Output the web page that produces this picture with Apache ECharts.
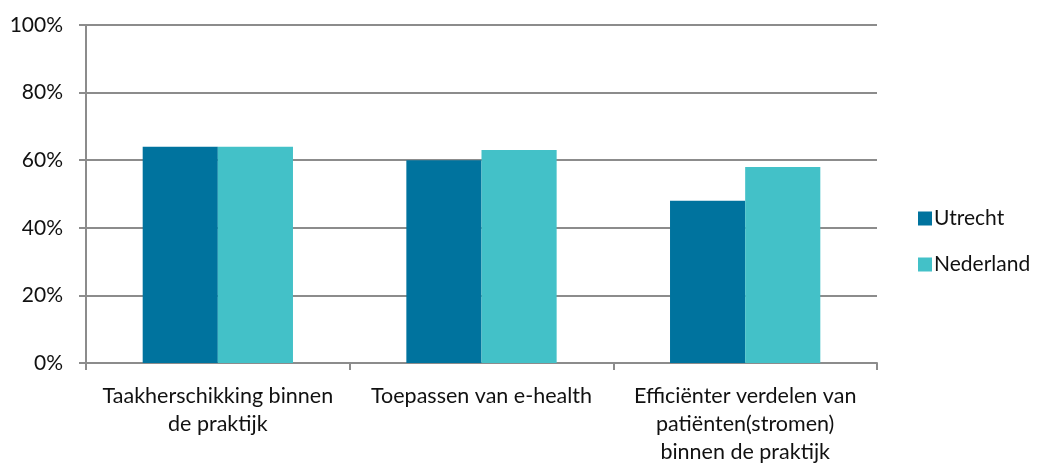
<!DOCTYPE html>
<html lang="nl">
<head>
<meta charset="UTF-8">
<title>Taakherschikking en e-health</title>
<script src="https://cdn.jsdelivr.net/npm/echarts@6/dist/echarts.min.js"></script>
<style>
  html, body { margin: 0; padding: 0; background: #fff; }
</style>
</head>
<body>
    <div id="chart" style="width: 1041px;height:466px;"></div>
    <script type="text/javascript">
        // categorieën en waarden (in %)
        var categories = ['Taakherschikking binnen\nde praktijk', 'Toepassen van e-health', 'Efficiënter verdelen van\npatiënten(stromen)\nbinnen de praktijk'];
        var utrecht = [64, 60, 48];
        var nederland = [64, 63, 58];
        var yTicks = [0, 20, 40, 60, 80, 100];

        var myChart = echarts.init(document.getElementById('chart'));
        var gray = '#8c8c8c';
        var font = 'Lato, Open Sans, sans-serif';

        var option = {
            animation: false,
            textStyle: { fontFamily: font },
            grid: { left: 86, right: 164, top: 25, bottom: 98, containLabel: false },
            legend: {
                orient: 'vertical',
                left: 913,
                top: 203,
                itemWidth: 14,
                itemHeight: 14,
                itemGap: 25,
                icon: 'rect',
                textStyle: { fontSize: 21, color: '#111', fontFamily: font, padding: [0, 0, 0, -3] },
                data: ['Utrecht', 'Nederland']
            },
            xAxis: {
                type: 'category',
                data: categories,
                axisLine: { lineStyle: { color: gray, width: 2 } },
                axisTick: { show: true, length: 7, interval: 0, lineStyle: { color: gray, width: 2 } },
                axisLabel: { interval: 0, fontSize: 21.5, color: '#111', lineHeight: 28, margin: 19, fontFamily: font }
            },
            yAxis: {
                type: 'value',
                min: yTicks[0],
                max: yTicks[yTicks.length - 1],
                interval: 20,
                axisLine: { show: true, lineStyle: { color: gray, width: 2 } },
                axisTick: { show: true, length: 7, lineStyle: { color: gray, width: 2 } },
                splitLine: { lineStyle: { color: gray, width: 2 } },
                axisLabel: { formatter: '{value}%', fontSize: 21, color: '#111', margin: 23, fontFamily: font }
            },
            series: [{
                name: 'Utrecht',
                type: 'bar',
                data: utrecht,
                barGap: '0%',
                barCategoryGap: '43%',
                itemStyle: { color: '#00739e' }
            }, {
                name: 'Nederland',
                type: 'bar',
                data: nederland,
                itemStyle: { color: '#43c1c8' }
            }]
        };

        myChart.setOption(option);
    </script>
</body>
</html>
